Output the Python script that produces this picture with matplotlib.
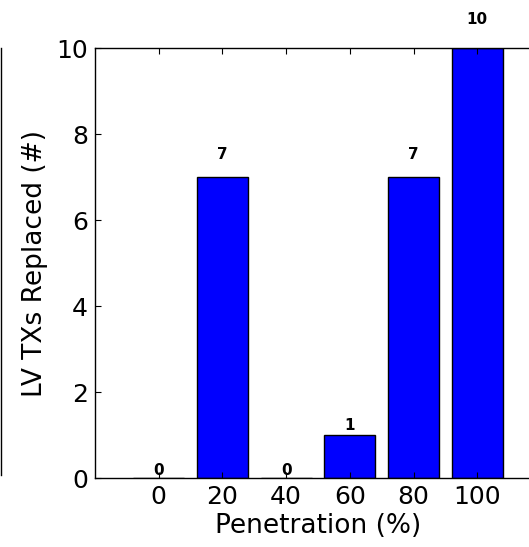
import matplotlib
matplotlib.use('Agg')
import matplotlib.pyplot as plt
from matplotlib.lines import Line2D

# --- data ---
penetration = [0, 20, 40, 60, 80, 100]
replaced = [0, 7, 0, 1, 7, 10]

plt.rcParams['font.family'] = 'DejaVu Sans'

fig = plt.figure(figsize=(5.29, 5.47), dpi=100)
# axes runs past the right edge (cropped figure)
ax = fig.add_axes([0.1796, 0.1261, 0.843, 0.7861])

bars = ax.bar(penetration, replaced, width=16, align='center',
              color='#0000ff', edgecolor='black', linewidth=1.0)
for x, h in zip(penetration, replaced):
    ax.text(x, 1.05 * h, '%d' % h, ha='center', va='bottom',
            fontsize=11, fontweight='bold')

ax.set_xlim(-20, 120)
ax.set_ylim(0, 10)
ax.set_xticks(penetration)
ax.set_yticks([0, 2, 4, 6, 8, 10])
ax.tick_params(direction='in', length=4, width=0.8, labelsize=18,
               top=True, right=True, pad=5)
ax.set_xlabel('Penetration (%)', fontsize=19, labelpad=3)
ax.set_ylabel('LV TXs Replaced (#)', fontsize=19, labelpad=6)
for s in ax.spines.values():
    s.set_linewidth(1.0)

# edge of neighbouring panel
fig.add_artist(Line2D([0.002, 0.002], [1 - 475 / 547, 1 - 48 / 547],
                      transform=fig.transFigure, color='black', linewidth=1.0))

fig.savefig('out.png', dpi=100)
